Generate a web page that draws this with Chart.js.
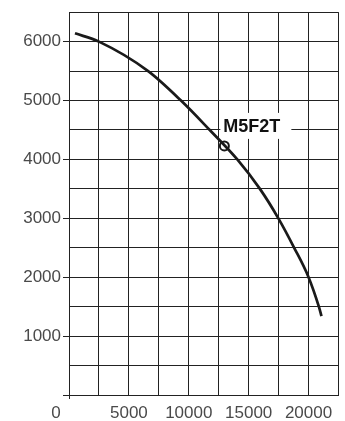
<!DOCTYPE html>
<html>
<head>
<meta charset="utf-8">
<script src="https://cdn.jsdelivr.net/npm/chart.js@4/dist/chart.umd.min.js"></script>
<style>
  html, body { margin: 0; padding: 0; background: #fff; }
  #wrap { width: 345px; height: 421px; }
</style>
</head>
<body>
<div id="wrap"><canvas id="c" width="345" height="421"></canvas></div>
<script>
// Curve (x: airflow, y: pressure)
const curveX = [500, 2500, 6608, 9350, 11750, 14050, 15940, 17480, 18800, 20000, 20860, 21080];
const curveY = [6141, 6000, 5500, 5000, 4500, 4000, 3500, 3000, 2500, 2000, 1500, 1340];
// Marked operating point and its label
const markerX = [12970];
const markerY = [4230];
const markerLabel = ['M5F2T'];
// Tick labels
const xTickLabels = [5000, 10000, 15000, 20000];
const yTickLabels = [1000, 2000, 3000, 4000, 5000, 6000];
const originLabel = '0';

const GRID = '#222222';
const TEXT = '#4a4a4a';
const FONT = '"Liberation Sans", Arial, Helvetica, sans-serif';

const curveData = curveX.map((x, i) => ({ x, y: curveY[i] }));
const markerData = markerX.map((x, i) => ({ x, y: markerY[i] }));

const labelPlugin = {
  id: 'labels',
  beforeDatasetsDraw(chart) {
    const { ctx, scales: { x, y } } = chart;
    markerData.forEach((p, i) => {
      const px = x.getPixelForValue(p.x);
      const py = y.getPixelForValue(p.y);
      ctx.save();
      ctx.fillStyle = '#ffffff';
      ctx.fillRect(px - 4, py - 33, 71, 26);
      ctx.fillStyle = '#111';
      ctx.font = 'bold 18px ' + FONT;
      ctx.textAlign = 'left';
      ctx.textBaseline = 'middle';
      ctx.fillText(markerLabel[i], px - 1, py - 19);
      ctx.restore();
    });
  },
  afterDraw(chart) {
    const { ctx, scales: { x } } = chart;
    ctx.save();
    ctx.fillStyle = TEXT;
    ctx.font = '17px ' + FONT;
    ctx.textAlign = 'center';
    ctx.textBaseline = 'middle';
    ctx.fillText(originLabel, x.getPixelForValue(0) - 13, x.top + 18);
    ctx.restore();
  }
};

new Chart(document.getElementById('c'), {
  type: 'scatter',
  data: {
    datasets: [
      {
        data: curveData,
        showLine: true,
        borderColor: '#1a1a1a',
        borderWidth: 2.7,
        pointRadius: 0,
        cubicInterpolationMode: 'monotone',
        fill: false
      },
      {
        data: markerData,
        showLine: false,
        pointRadius: 4.5,
        pointBorderWidth: 2,
        pointBackgroundColor: '#ffffff',
        pointBorderColor: '#1a1a1a'
      }
    ]
  },
  options: {
    responsive: false,
    animation: false,
    devicePixelRatio: 1,
    layout: { padding: { top: 11, right: 6, left: 0, bottom: 0 } },
    plugins: { legend: { display: false }, tooltip: { enabled: false } },
    scales: {
      x: {
        type: 'linear',
        min: 0,
        max: 22500,
        afterFit: s => { s.height = 26; },
        ticks: {
          stepSize: 2500,
          autoSkip: false,
          maxRotation: 0,
          padding: 4,
          color: TEXT,
          font: { family: FONT, size: 17 },
          callback: v => xTickLabels.includes(v) ? String(v) : ''
        },
        grid: {
          color: GRID,
          lineWidth: 1,
          tickLength: 4,
          tickColor: c => (c.tick && c.tick.value === 0) ? GRID : 'rgba(0,0,0,0)'
        },
        border: { display: true, color: GRID, width: 1 }
      },
      y: {
        type: 'linear',
        min: 0,
        max: 6500,
        afterFit: s => { s.width = 69; },
        ticks: {
          stepSize: 500,
          autoSkip: false,
          padding: 2,
          color: TEXT,
          font: { family: FONT, size: 17 },
          callback: v => yTickLabels.includes(v) ? String(v) : ''
        },
        grid: {
          color: GRID,
          lineWidth: 1,
          tickLength: 6,
          tickColor: c => (c.tick && c.tick.value % 1000 === 0) ? GRID : 'rgba(0,0,0,0)'
        },
        border: { display: true, color: GRID, width: 1 }
      }
    }
  },
  plugins: [labelPlugin]
});
</script>
</body>
</html>
